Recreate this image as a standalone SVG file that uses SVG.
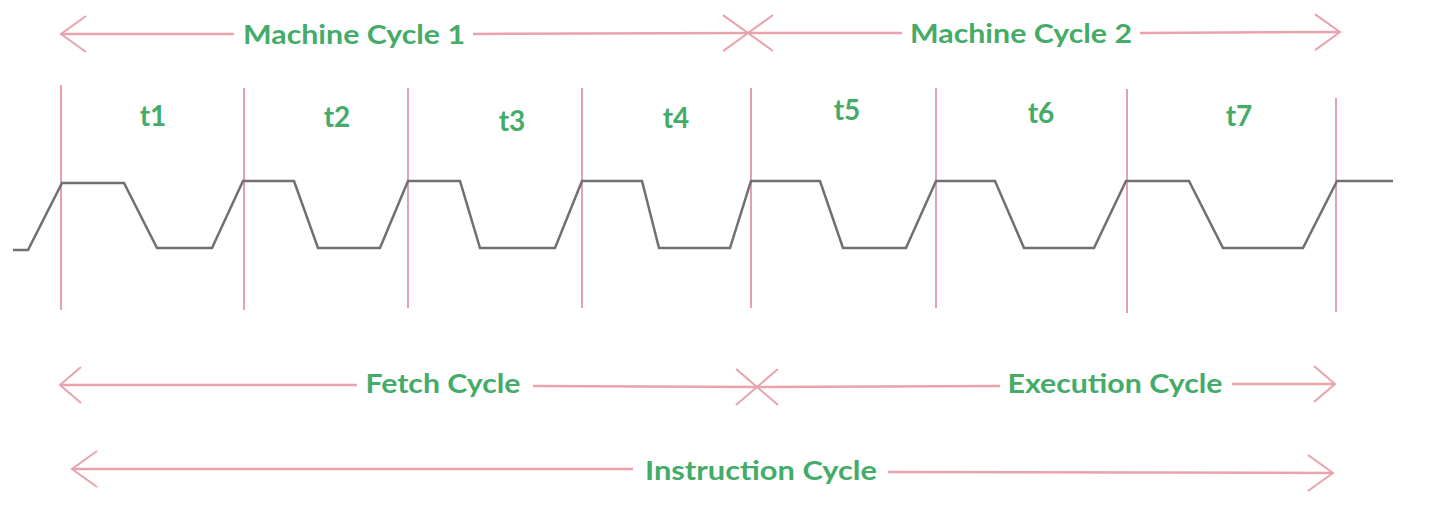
<svg xmlns="http://www.w3.org/2000/svg" width="1440" height="515" viewBox="0 0 1440 515">
  <defs>
    <marker id="chev" markerUnits="userSpaceOnUse" viewBox="-30 -22 34 44" refX="0" refY="0" markerWidth="34" markerHeight="44" orient="auto-start-reverse" overflow="visible">
      <path d="M-25,-18 L0,0 L-25,18" fill="none" stroke="#e8a3ad" stroke-width="2"/>
    </marker>
    <marker id="chevs" markerUnits="userSpaceOnUse" viewBox="-30 -22 34 44" refX="0" refY="0" markerWidth="34" markerHeight="44" orient="auto-start-reverse" overflow="visible">
      <path d="M-21,-18 L0,0 L-21,18" fill="none" stroke="#e8a3ad" stroke-width="2"/>
    </marker>
  </defs>
  <style>
    .lbl { font-family: Lato, "Open Sans", "Liberation Sans", sans-serif; font-weight: 700; fill: #44ab68; text-anchor: middle; }
    .big { font-size: 26px; }
    .t { font-size: 28px; }
    .tick { stroke: #e8a0aa; stroke-width: 2; fill: none; }
    .arr { stroke: #e8a3ad; stroke-width: 2.5; fill: none; marker-start: url(#chev); marker-end: url(#chev); }
    .arrs { stroke: #e8a3ad; stroke-width: 2.5; fill: none; marker-start: url(#chevs); marker-end: url(#chevs); }
    .wave { stroke: #707070; stroke-width: 2.5; fill: none; stroke-linejoin: miter; }
  </style>
  <rect width="1440" height="515" fill="#ffffff"/>

  <g id="boundaries">
    <line class="tick" x1="61" y1="85" x2="61" y2="310"/>
    <line class="tick" x1="244" y1="88" x2="244" y2="310"/>
    <line class="tick" x1="408" y1="88" x2="408" y2="308"/>
    <line class="tick" x1="582" y1="88" x2="582" y2="308"/>
    <line class="tick" x1="751" y1="88" x2="751" y2="308"/>
    <line class="tick" x1="936" y1="88" x2="936" y2="308"/>
    <line class="tick" x1="1127" y1="89" x2="1127" y2="313"/>
    <line class="tick" x1="1336" y1="98" x2="1336" y2="312"/>
  </g>

  <g id="clock">
    <path class="wave" d="M13,250 L28,250 L62,183 L124,183 L157,248 L212,248 L243,181 L294,181 L318,248 L380,248 L408,181 L460,181 L480,248 L555,248 L582,181 L642,181 L659,248 L730,248 L751,181 L820,181 L843,248 L906,248 L936,181 L995,181 L1024,248 L1094,248 L1126,181 L1189,181 L1223,248 L1303,248 L1337,181 L1393,181"/>
  </g>

  <g id="states">
    <text class="lbl t" x="153" y="126">t1</text>
    <text class="lbl t" x="337" y="127">t2</text>
    <text class="lbl t" x="512" y="131">t3</text>
    <text class="lbl t" x="676" y="128">t4</text>
    <text class="lbl t" x="847" y="120">t5</text>
    <text class="lbl t" x="1041" y="123">t6</text>
    <text class="lbl t" x="1239" y="126">t7</text>
  </g>

  <g id="connectors">
    <path class="arr" d="M61,34 L234,34 M473,34 L748,33"/>
    <path class="arr" d="M748,33 L902,33 M1140,33 L1340,32"/>
    <path class="arrs" d="M60,385 L357,385 M533,386 L757,387"/>
    <path class="arrs" d="M757,387 L1000,386 M1232,384 L1335,384"/>
    <path class="arr" d="M72,469 L633,469 M888,472 L1333,473"/>
  </g>

  <g id="machine-cycle-1"><text class="lbl big" x="354" y="44" textLength="222" lengthAdjust="spacingAndGlyphs">Machine Cycle 1</text></g>
  <g id="machine-cycle-2"><text class="lbl big" x="1021" y="43" textLength="222" lengthAdjust="spacingAndGlyphs">Machine Cycle 2</text></g>
  <g id="fetch-cycle"><text class="lbl big" x="443" y="393" textLength="155" lengthAdjust="spacingAndGlyphs">Fetch Cycle</text></g>
  <g id="execution-cycle"><text class="lbl big" x="1115" y="393" textLength="215" lengthAdjust="spacingAndGlyphs">Execution Cycle</text></g>
  <g id="instruction-cycle"><text class="lbl big" x="761" y="480" textLength="232" lengthAdjust="spacingAndGlyphs">Instruction Cycle</text></g>
</svg>
